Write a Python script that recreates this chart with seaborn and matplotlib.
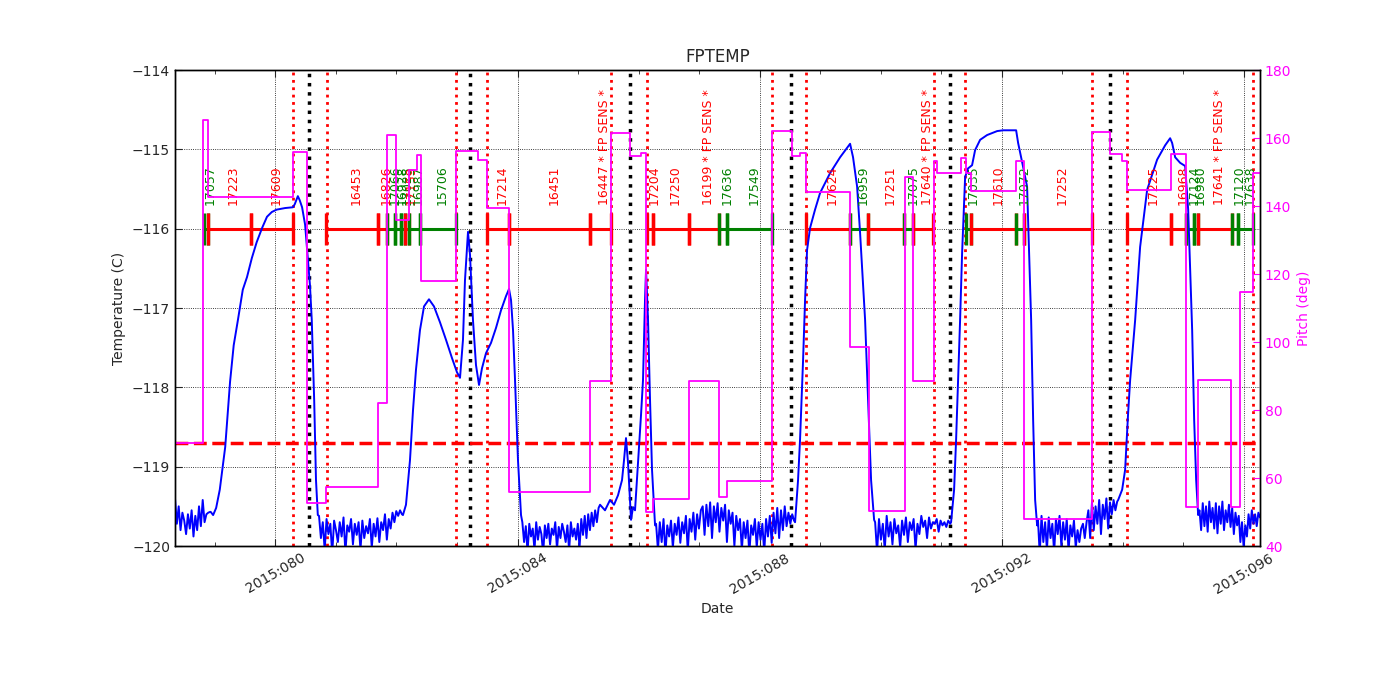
import numpy as np
import matplotlib
matplotlib.use("Agg")
import matplotlib.pyplot as plt
import seaborn as sns
from matplotlib.ticker import FixedLocator, FuncFormatter, MultipleLocator

# ---------------- data (day-of-year 2015) ----------------
# noisy low-temperature stretches: (start, end, values)
noise_A = (78.34, 78.92, [-119.40,-119.72,-119.50,-119.80,-119.58,-119.68,-119.85,-119.60,-119.78,-119.55,
                          -119.88,-119.62,-119.80,-119.50,-119.75,-119.42,-119.70,-119.60,-119.58,-119.57])
noise_B = (80.72, 82.09, [-119.62,-119.90,-119.70,-120.05,-119.66,-119.85,-119.72,-120.10,-119.68,-119.80,
                          -119.95,-119.70,-119.88,-119.64,-120.08,-119.74,-119.82,-119.66,-119.98,-119.72,
                          -119.86,-119.70,-120.05,-119.68,-119.90,-119.75,-119.84,-119.66,-120.02,-119.72,
                          -119.88,-119.65,-119.95,-119.70,-119.80,-119.60,-119.92,-119.66,-119.78,-119.58,
                          -119.70,-119.56,-119.62,-119.55,-119.60])
noise_C = (84.08, 85.34, [-119.70,-119.95,-119.75,-120.08,-119.72,-119.88,-119.78,-120.05,-119.70,-119.92,
                          -119.76,-119.85,-120.10,-119.74,-119.90,-119.72,-119.98,-119.78,-119.86,-119.70,
                          -120.04,-119.76,-119.90,-119.72,-119.82,-119.95,-119.74,-120.06,-119.70,-119.88,
                          -119.78,-119.92,-119.72,-120.02,-119.66,-119.86,-119.62,-119.90,-119.60,-119.80,
                          -119.58,-119.75,-119.55,-119.70,-119.52])
noise_D = (86.29, 88.57, [-119.72,-120.05,-119.70,-119.95,-119.66,-120.10,-119.74,-119.88,-119.68,-120.02,
                          -119.72,-119.86,-119.64,-119.96,-119.70,-119.84,-119.62,-120.06,-119.66,-119.82,
                          -119.58,-119.92,-119.60,-119.78,-119.55,
                          -119.50,-119.86,-119.48,-119.75,-119.45,-119.90,-119.50,-119.70,-119.46,-119.82,
                          -119.52,-119.68,-119.48,-119.95,-119.55,-119.72,-119.58,-120.00,-119.62,-119.80,
                          -119.66,-120.05,-119.70,-119.90,-119.68,-120.10,-119.74,-119.86,-119.66,-120.02,
                          -119.70,-119.92,-119.72,-120.08,-119.66,-119.88,-119.62,-119.96,-119.58,-119.84,
                          -119.52,-119.90,-119.55,-119.80,-119.50,-119.75,-119.58,-119.72,-119.60,-119.68])
noise_E = (89.91, 91.15, [-119.70,-120.08,-119.66,-119.92,-119.72,-120.05,-119.62,-119.88,-119.70,-119.98,
                          -119.66,-119.84,-119.74,-120.02,-119.68,-119.86,-119.64,-119.95,-119.70,-119.80,
                          -119.66,-120.04,-119.72,-119.85,-119.62,-119.76,-119.68,-119.90,-119.64,-119.78,
                          -119.70,-119.72,-119.66,-119.82,-119.68,-119.74,-119.70,-119.76,-119.68,-119.72])
noise_F = (92.60, 93.91, [-119.66,-120.10,-119.62,-119.95,-119.70,-120.05,-119.64,-119.90,-119.72,-120.08,
                          -119.66,-119.85,-119.62,-120.00,-119.70,-119.92,-119.66,-120.06,-119.74,-119.88,
                          -119.68,-120.02,-119.80,-119.95,-119.78,-119.72,-119.90,-119.70,-119.55,-119.90,
                          -119.45,-119.80,-119.50,-119.72,-119.42,-119.85,-119.48,-119.66,-119.40,-119.78,
                          -119.45,-119.60,-119.42,-119.55,-119.44])
noise_G = (95.27, 96.27, [-119.55,-119.80,-119.46,-119.75,-119.50,-119.82,-119.44,-119.70,-119.52,-119.78,
                          -119.46,-119.84,-119.50,-119.72,-119.44,-119.80,-119.55,-119.70,-119.48,-119.76,
                          -119.52,-119.85,-119.58,-119.74,-119.62,-119.95,-119.70,-120.02,-119.74,-119.88,
                          -119.60,-119.78,-119.55,-119.72,-119.60,-119.75,-119.58,-119.64])

# smooth warm excursions: times and temperatures
seg1_t = [78.93,78.97,79.02,79.08,79.17,79.25,79.31,79.38,79.46,79.53,79.61,79.69,79.78,79.86,79.94,
          80.02,80.16,80.29,80.32,80.37,80.40,80.44,80.49,80.52,80.57,80.60,80.64,80.67,80.70]
seg1_v = [-119.57,-119.61,-119.52,-119.29,-118.75,-117.93,-117.47,-117.15,-116.77,-116.61,-116.37,-116.17,
          -115.99,-115.85,-115.79,-115.76,-115.74,-115.73,-115.69,-115.59,-115.64,-115.73,-115.95,-116.23,
          -116.71,-117.15,-118.16,-119.17,-119.61]
seg2_t = [82.107,82.157,82.223,82.273,82.322,82.388,82.455,82.537,82.620,82.719,82.818,82.917,83.000,83.050,
          83.099,83.132,83.182,83.215,83.264,83.314,83.364,83.413,83.479,83.562,83.645,83.727,83.810,83.860,
          83.893,83.926,83.959,84.008,84.058]
seg2_v = [-119.61,-119.48,-118.92,-118.29,-117.78,-117.28,-116.98,-116.89,-116.98,-117.18,-117.40,-117.63,
          -117.81,-117.88,-117.40,-116.65,-116.04,-116.33,-117.15,-117.72,-117.97,-117.76,-117.57,-117.44,
          -117.25,-117.03,-116.85,-116.76,-116.90,-117.28,-117.91,-118.92,-119.61]
seg3_t = [85.364,85.446,85.529,85.595,85.661,85.727,85.760,85.793,85.826,85.876,85.909,85.942,85.992,86.041,
          86.074,86.107,86.124,86.157,86.190,86.223,86.273]
seg3_v = [-119.48,-119.55,-119.42,-119.48,-119.36,-119.17,-118.92,-118.64,-118.95,-119.67,-119.51,-119.55,
          -118.95,-118.35,-117.91,-116.90,-116.52,-117.15,-118.16,-119.04,-119.74]
seg4_t = [88.587,88.636,88.669,88.719,88.752,88.785,88.835,88.917,89.000,89.165,89.331,89.496,89.545,89.612,
          89.661,89.744,89.793,89.843,89.893]
seg4_v = [-119.70,-119.17,-118.66,-117.66,-116.90,-116.27,-115.99,-115.76,-115.55,-115.30,-115.10,-114.93,
          -115.10,-115.47,-116.05,-117.15,-118.16,-119.17,-119.67]
seg5_t = [91.165,91.215,91.248,91.281,91.314,91.347,91.397,91.446,91.512,91.562,91.645,91.760,91.926,92.025,
          92.240,92.273,92.355,92.421,92.488,92.521,92.554,92.587]
seg5_v = [-119.70,-119.29,-118.66,-117.91,-117.15,-116.31,-115.35,-115.24,-115.20,-115.01,-114.88,-114.82,
          -114.77,-114.76,-114.76,-114.92,-115.22,-115.47,-117.15,-118.41,-119.42,-119.74]
seg6_t = [93.926,93.992,94.041,94.091,94.124,94.207,94.289,94.405,94.570,94.702,94.785,94.818,94.868,94.950,
          95.033,95.083,95.116,95.149,95.182,95.215,95.248]
seg6_v = [-119.42,-119.29,-119.04,-118.32,-117.91,-117.15,-116.23,-115.51,-115.13,-114.95,-114.86,-114.92,
          -115.10,-115.17,-115.21,-115.76,-116.52,-117.28,-118.41,-119.17,-119.61]

# pitch (deg), step changes
pitch_t = [78.34,78.81,78.88,80.29,80.52,80.84,81.69,81.84,82.00,82.20,82.34,82.40,82.98,83.35,83.50,83.86,
           85.20,85.55,85.86,86.04,86.12,86.24,86.84,87.33,87.46,88.21,88.54,88.67,88.77,89.50,89.81,90.41,
           90.54,90.88,90.93,91.33,91.41,91.50,92.24,92.37,93.50,93.79,93.99,94.07,94.80,95.05,95.25,95.79,
           95.94,96.16,96.28]
pitch_v = [70.3,165.3,142.6,155.9,52.6,57.4,82.0,160.9,135.9,150.6,155.0,118.0,156.2,153.5,139.4,55.9,
           88.5,161.5,154.7,155.6,50.0,53.8,88.5,54.4,59.1,162.0,154.7,155.6,144.1,98.5,50.3,148.5,
           88.5,153.2,149.7,154.1,149.7,144.4,153.2,47.9,161.8,155.3,153.2,144.7,155.3,51.5,88.8,51.5,
           114.7,149.7,149.7]

# observations: start, stop, label, colour
obs_start = [78.818,78.884,79.595,80.835,81.694,81.843,81.975,82.074,82.140,82.207,82.388,83.496,83.860,85.198,
             86.141,86.240,86.835,87.331,87.463,88.769,89.496,89.793,90.388,90.537,91.413,91.496,92.240,92.372,
             94.074,94.802,95.050,95.182,95.248,95.810,95.909]
obs_stop = [78.884,79.595,80.289,81.694,81.843,81.975,82.074,82.140,82.207,82.388,82.983,83.860,85.198,85.545,
            86.240,86.835,87.331,87.463,88.207,89.496,89.793,90.388,90.537,90.868,91.496,92.240,92.372,93.496,
            94.802,95.050,95.182,95.248,95.810,95.909,96.157]
obs_label = ["17057","17223","17609","16453","16826","17066","16928","17025","17159","16987","15706","17214",
             "16451","16447 * FP SENS *","17204","17250","16199 * FP SENS *","17636","17549","17624","16959",
             "17251","17075","17640 * FP SENS *","17035","17610","17072","17252","17225","16968","17124",
             "16980","17641 * FP SENS *","17120","17638"]
obs_color = ["g","r","r","r","r","g","g","g","r","g","g","r","r","r","r","r","r","g","g","r","g",
             "r","g","r","g","r","g","r","r","r","g","g","r","g","g"]

rad_zone = [80.298,80.851,82.983,83.496,85.545,86.141,88.207,88.769,90.884,91.397,93.496,94.074,96.157]
perigee = [80.562,83.215,85.860,88.521,91.149,93.793]
temp_limit = -118.7

# ---------------- build full temperature trace ----------------
pieces_t, pieces_v = [], []
for nz, (st, sv) in zip([noise_A, noise_B, noise_C, noise_D, noise_E, noise_F, noise_G],
                        [(seg1_t, seg1_v), (seg2_t, seg2_v), (seg3_t, seg3_v), (seg4_t, seg4_v),
                         (seg5_t, seg5_v), (seg6_t, seg6_v), ([], [])]):
    pieces_t.append(np.linspace(nz[0], nz[1], len(nz[2])))
    pieces_v.append(np.array(nz[2]))
    pieces_t.append(np.array(st, dtype=float))
    pieces_v.append(np.array(sv, dtype=float))
temp_t = np.concatenate(pieces_t)
temp_v = np.concatenate(pieces_v)

# ---------------- plot ----------------
sns.set_style("white")
plt.rcParams.update({
    "font.family": ["DejaVu Sans"],
    "font.size": 10,
    "xtick.direction": "in",
    "ytick.direction": "in",
    "xtick.major.size": 5,
    "ytick.major.size": 5,
    "xtick.minor.size": 3,
    "axes.edgecolor": "black",
    "axes.linewidth": 1.0,
})

fig = plt.figure(figsize=(14, 7), dpi=100)
ax = fig.add_axes([0.125, 0.22, 0.775, 0.68])

colmap = {"r": "#ff0000", "g": "#008000"}

sns.lineplot(x=temp_t, y=temp_v, ax=ax, color="blue", lw=1.4, estimator=None, sort=False, zorder=3)

for s, e, lab, c in zip(obs_start, obs_stop, obs_label, obs_color):
    ax.plot([s, e], [-116, -116], color=colmap[c], lw=2.2, marker="|", ms=23, mew=2.4, zorder=2)
    ax.annotate(lab, xy=((s + e) / 2, -115.70), xytext=(3, 0), textcoords="offset points",
                rotation=90, ha="center", va="bottom", fontsize=9, color=colmap[c])

for x in rad_zone:
    ax.axvline(x, color="#ff0000", ls=":", lw=2, zorder=1)
for x in perigee:
    ax.axvline(x, color="black", ls=":", lw=2.5, zorder=1)
ax.axhline(temp_limit, color="#ff0000", ls="--", lw=2.5, zorder=2)

ax.set_xlim(78.34, 96.27)
ax.set_ylim(-120, -114)
ax.xaxis.set_major_locator(FixedLocator([80, 84, 88, 92, 96]))
ax.xaxis.set_minor_locator(MultipleLocator(1))
ax.xaxis.set_major_formatter(FuncFormatter(lambda v, p: "2015:%03d" % int(round(v))))
ax.yaxis.set_major_locator(MultipleLocator(1))
ax.tick_params(axis="x", which="both", top=True, bottom=True)
ax.tick_params(axis="y", left=True, right=False)
ax.grid(True, which="major", color="black", ls=":", lw=0.6)
for lbl in ax.get_xticklabels():
    lbl.set_rotation(30)
    lbl.set_ha("center")
ax.set_xlabel("Date")
ax.set_ylabel("Temperature (C)")
ax.set_title("FPTEMP", fontsize=12)

ax2 = ax.twinx()
sns.lineplot(x=pitch_t, y=pitch_v, ax=ax2, color="magenta", lw=1.3, estimator=None, sort=False,
             drawstyle="steps-post")
ax2.set_ylim(40, 180)
ax2.yaxis.set_major_locator(MultipleLocator(20))
ax2.tick_params(axis="y", colors="magenta", direction="in", length=5)
ax2.set_ylabel("Pitch (deg)", color="magenta")
ax2.grid(False)
for sp in ax2.spines.values():
    sp.set_color("black")

fig.savefig("out.png", dpi=100, facecolor="white")
